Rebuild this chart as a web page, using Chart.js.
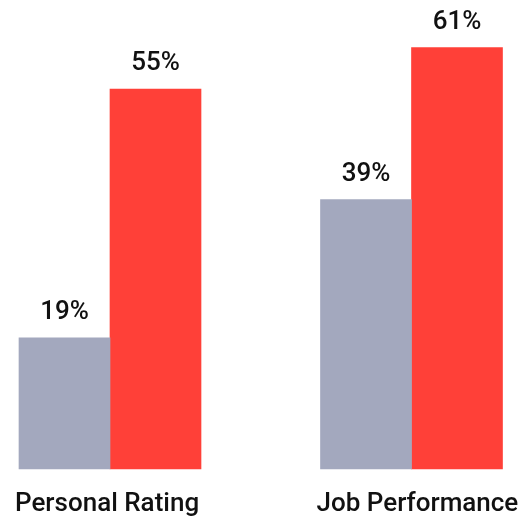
<!DOCTYPE html>
<html>
<head>
<meta charset="utf-8">
<script src="https://cdn.jsdelivr.net/npm/chart.js@4"></script>
<style>
  html, body { margin: 0; padding: 0; background: #fff; }
  #wrap { width: 529px; height: 519px; }
</style>
</head>
<body>
<div id="wrap"><canvas id="chart" width="529" height="519"></canvas></div>
<script>
const categories = ['Personal Rating', 'Job Performance'];
const seriesA = [19, 39];
const seriesB = [55, 61];
const seriesColors = ['#a3a8be', '#ff4038'];

// draws the "NN%" labels on top of each bar
const valueLabels = {
    id: 'valueLabels',
    afterDatasetsDraw(chart) {
        const ctx = chart.ctx;
        ctx.save();
        ctx.font = '500 26px Roboto';
        ctx.fillStyle = '#111';
        ctx.textAlign = 'center';
        ctx.textBaseline = 'alphabetic';
        chart.data.datasets.forEach((dataset, i) => {
            chart.getDatasetMeta(i).data.forEach((bar, j) => {
                ctx.fillText(dataset.data[j] + '%', bar.x, bar.y - 19);
            });
        });
        ctx.restore();
    }
};

const ctx = document.getElementById('chart');
new Chart(ctx, {
    type: 'bar',
    data: {
        labels: categories,
        datasets: [{
            data: seriesA,
            backgroundColor: seriesColors[0],
            barThickness: 91,
            clip: false
        }, {
            data: seriesB,
            backgroundColor: seriesColors[1],
            barThickness: 91,
            clip: false
        }]
    },
    options: {
        responsive: false,
        animation: false,
        layout: {
            padding: { left: 110, right: 117.5, top: 20, bottom: 0 }
        },
        plugins: {
            legend: { display: false },
            tooltip: { enabled: false }
        },
        scales: {
            x: {
                offset: false,
                grid: { display: false, drawTicks: false },
                border: { display: false },
                ticks: {
                    autoSkip: false,
                    maxRotation: 0,
                    align: 'start',
                    labelOffset: -95,
                    padding: 20,
                    color: '#111',
                    font: { family: 'Roboto', size: 26, weight: '500' }
                },
                afterFit: (scale) => {
                    scale.height = 50;
                    scale.paddingLeft = 0;
                    scale.paddingRight = 0;
                }
            },
            y: {
                display: false,
                min: 0,
                max: 65
            }
        }
    },
    plugins: [valueLabels]
});
</script>
</body>
</html>
